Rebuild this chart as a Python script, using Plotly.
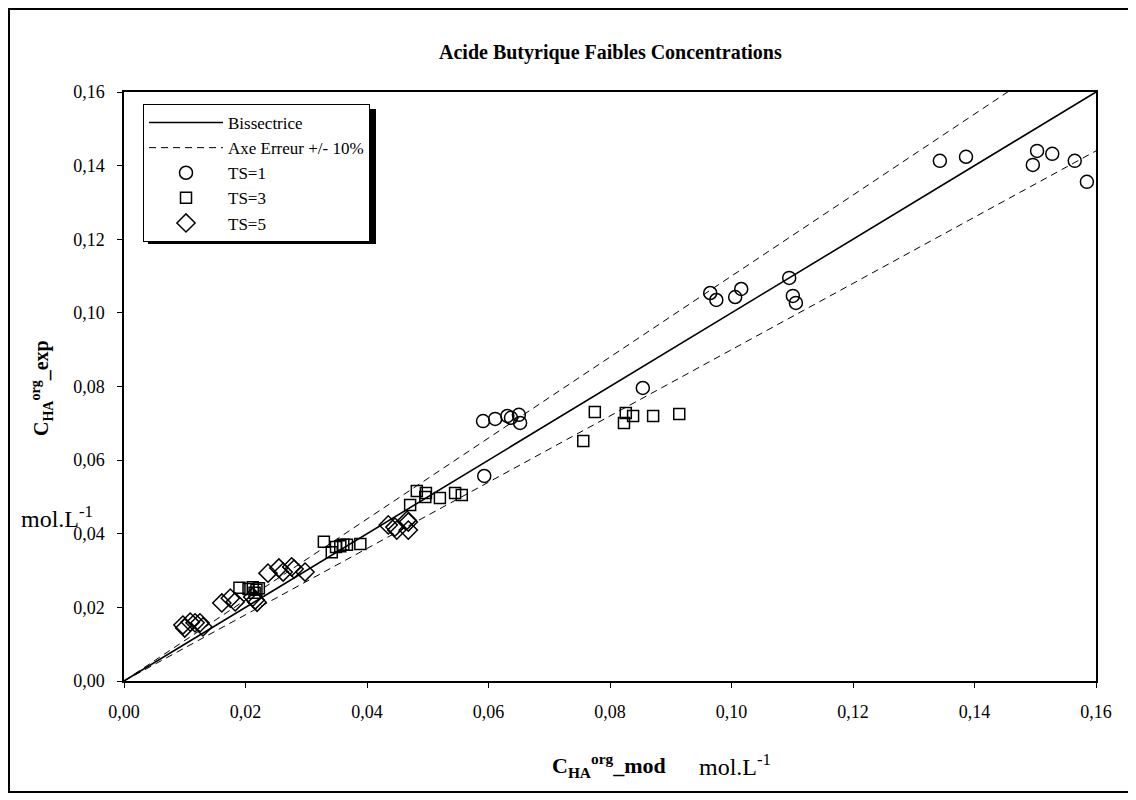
import plotly.graph_objects as go

# ---- data ----
ts1_x = [0.1585, 0.1565, 0.1528, 0.1503, 0.1496, 0.1343, 0.1386,
         0.0965, 0.0975, 0.1006, 0.1016, 0.1095, 0.1101, 0.1106, 0.0854,
         0.0591, 0.0611, 0.0631, 0.0637, 0.0650, 0.0652, 0.0593]
ts1_y = [0.1356, 0.1413, 0.1432, 0.1440, 0.1402, 0.1413, 0.1424,
         0.1054, 0.1035, 0.1043, 0.1065, 0.1095, 0.1046, 0.1027, 0.0796,
         0.0706, 0.0712, 0.0720, 0.0715, 0.0723, 0.0701, 0.0557]

ts3_x = [0.0775, 0.0826, 0.0838, 0.0823, 0.0871, 0.0914, 0.0756,
         0.0482, 0.0497, 0.0496, 0.0520, 0.0545, 0.0556, 0.0471,
         0.0329, 0.0342, 0.0349, 0.0356, 0.0361, 0.0367, 0.0389,
         0.0190, 0.0205, 0.0212, 0.0218, 0.0222, 0.0215]
ts3_y = [0.0731, 0.0728, 0.0720, 0.0701, 0.0720, 0.0725, 0.0652,
         0.0516, 0.0511, 0.0500, 0.0497, 0.0511, 0.0505, 0.0478,
         0.0378, 0.0350, 0.0364, 0.0366, 0.0370, 0.0370, 0.0372,
         0.0253, 0.0250, 0.0255, 0.0248, 0.0252, 0.0240]

ts5_x = [0.0435, 0.0446, 0.0449, 0.0466, 0.0468, 0.0468,
         0.0237, 0.0255, 0.0262, 0.0276, 0.0280, 0.0298,
         0.0161, 0.0175, 0.0183, 0.0216, 0.0212, 0.0219,
         0.0097, 0.0109, 0.0117, 0.0125, 0.0130, 0.0100]
ts5_y = [0.0424, 0.0418, 0.0410, 0.0437, 0.0432, 0.0410,
         0.0293, 0.0307, 0.0296, 0.0310, 0.0304, 0.0296,
         0.0212, 0.0225, 0.0215, 0.0220, 0.0228, 0.0214,
         0.0152, 0.0160, 0.0158, 0.0158, 0.0147, 0.0144]

bis_x = [0.0, 0.16]
bis_y = [0.0, 0.16]
up_x = [0.0, 0.1465]
up_y = [0.0, 0.16115]
lo_x = [0.0, 0.16]
lo_y = [0.0, 0.144]

tick_vals = [0.00, 0.02, 0.04, 0.06, 0.08, 0.10, 0.12, 0.14, 0.16]

FONT = "Liberation Serif"

fig = go.Figure()
fig.add_trace(go.Scatter(x=bis_x, y=bis_y, mode="lines", name="Bissectrice",
                         line=dict(color="black", width=1.6)))
fig.add_trace(go.Scatter(x=up_x, y=up_y, mode="lines", name="Axe Erreur +/- 10%",
                         line=dict(color="black", width=1, dash="7px,5px")))
fig.add_trace(go.Scatter(x=lo_x, y=lo_y, mode="lines", showlegend=False,
                         line=dict(color="black", width=1, dash="7px,5px")))
fig.add_trace(go.Scatter(x=ts1_x, y=ts1_y, mode="markers", name="TS=1",
                         marker=dict(symbol="circle-open", size=13, color="black",
                                     line=dict(width=1.5, color="black"))))
fig.add_trace(go.Scatter(x=ts3_x, y=ts3_y, mode="markers", name="TS=3",
                         marker=dict(symbol="square-open", size=11, color="black",
                                     line=dict(width=1.5, color="black"))))
fig.add_trace(go.Scatter(x=ts5_x, y=ts5_y, mode="markers", name="TS=5",
                         marker=dict(symbol="diamond-open", size=14, color="black",
                                     line=dict(width=1.5, color="black"))))

# page has an 8px body margin: figure coords = page coords - 8
OFF = 8
W, H = 1128, 792
L, R, T, B = 116, 40, 84, 119
pw, ph = W - L - R, H - T - B


def px(x):
    return (x - OFF - L) / pw


def py(y):
    return (H - B - (y - OFF)) / ph


axis_common = dict(range=[0, 0.16], tickvals=tick_vals, tickformat=".2f",
                   showgrid=False, zeroline=False, showline=True, linecolor="black",
                   linewidth=1.5, mirror=True, ticks="outside", ticklen=5,
                   tickcolor="black", ticklabelstandoff=9,
                   tickfont=dict(family=FONT, size=18, color="black"))

fig.update_layout(
    width=W, height=H,
    margin=dict(l=L, r=R, t=T, b=B),
    paper_bgcolor="white", plot_bgcolor="white",
    separators=", ",
    font=dict(family=FONT, color="black"),
    xaxis=axis_common,
    yaxis=axis_common,
    showlegend=True,
    legend=dict(x=px(143), y=py(104), xanchor="left", yanchor="top",
                bgcolor="white", bordercolor="black", borderwidth=1,
                font=dict(family=FONT, size=17, color="black"),
                itemwidth=74, tracegroupgap=0),
)

shapes = [
    # outer chart frame
    dict(type="rect", xref="paper", yref="paper", x0=px(9), x1=px(1134),
         y0=py(792), y1=py(9), line=dict(color="black", width=2), layer="below"),
    # legend shadow
    dict(type="rect", xref="paper", yref="paper", x0=px(148), x1=px(376),
         y0=py(244), y1=py(109), line=dict(width=0), fillcolor="black", layer="above"),
]
fig.update_layout(shapes=shapes)


def ann(text, x, y, size, angle=0):
    return dict(text=text, x=px(x), y=py(y), xref="paper", yref="paper",
                xanchor="center", yanchor="middle", showarrow=False, textangle=angle,
                font=dict(family=FONT, size=size, color="black"))


annotations = [
    ann("<b>Acide Butyrique Faibles Concentrations</b>", 610, 53, 20),
    ann("<b>C<sub>HA</sub><sup>org</sup>_exp</b>", 42, 388, 20, -90),
    ann("mol.L<sup>-1</sup>", 57, 517, 24),
    ann("<b>C<sub>HA</sub><sup>org</sup>_mod</b>", 609, 765, 22),
    ann("mol.L<sup>-1</sup>", 735, 765, 24),
]
fig.update_layout(annotations=annotations)

fig.write_html("out.html")
